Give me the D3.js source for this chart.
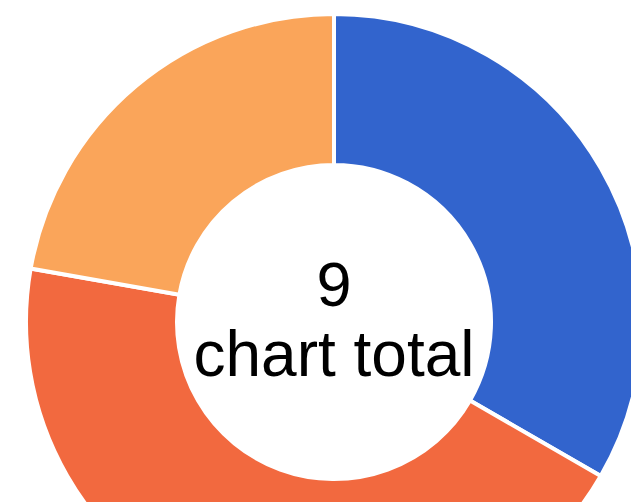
<html>
<head>
    <meta charset="UTF-8">
    <script src="https://cdnjs.cloudflare.com/ajax/libs/d3/7.8.5/d3.min.js"></script>
    <style>
        body { margin: 0; background: #ffffff; }
        .centerText { font-family: "Liberation Sans", Arial, sans-serif; fill: #000000; }
    </style>
</head>
<body>
    <svg style="width:631px; height:502px; display:block;"></svg>
    <script>
        var labels = ["Blue", "Red", "Orange"];
        var values = [3, 4, 2];
        var colors = ["#3264CD", "#F2693F", "#FAA55A"];
        var totalLabel = "chart total";

        var cx = 334, cy = 322;
        var outerR = 308, innerR = 157;

        var colorScale = d3.scaleOrdinal().domain(labels).range(colors);

        var pie = d3.pie().sort(null).value(d => d.value);
        var arc = d3.arc().innerRadius(innerR).outerRadius(outerR);

        var data = labels.map((l, i) => ({ label: l, value: values[i] }));

        var svg = d3.select("svg");
        var g = svg.append("g").attr("transform", `translate(${cx},${cy})`);

        g.selectAll("path.slice")
            .data(pie(data))
            .enter()
            .append("path")
            .attr("class", "slice")
            .attr("d", arc)
            .style("fill", d => colorScale(d.data.label))
            .style("stroke", "#ffffff")
            .style("stroke-width", 4);

        var total = d3.sum(values);

        g.append("text")
            .attr("class", "centerText")
            .attr("text-anchor", "middle")
            .attr("y", -16)
            .style("font-size", "63px")
            .text(total);

        g.append("text")
            .attr("class", "centerText")
            .attr("text-anchor", "middle")
            .attr("y", 54)
            .style("font-size", "64px")
            .text(totalLabel);
    </script>
</body>
</html>
